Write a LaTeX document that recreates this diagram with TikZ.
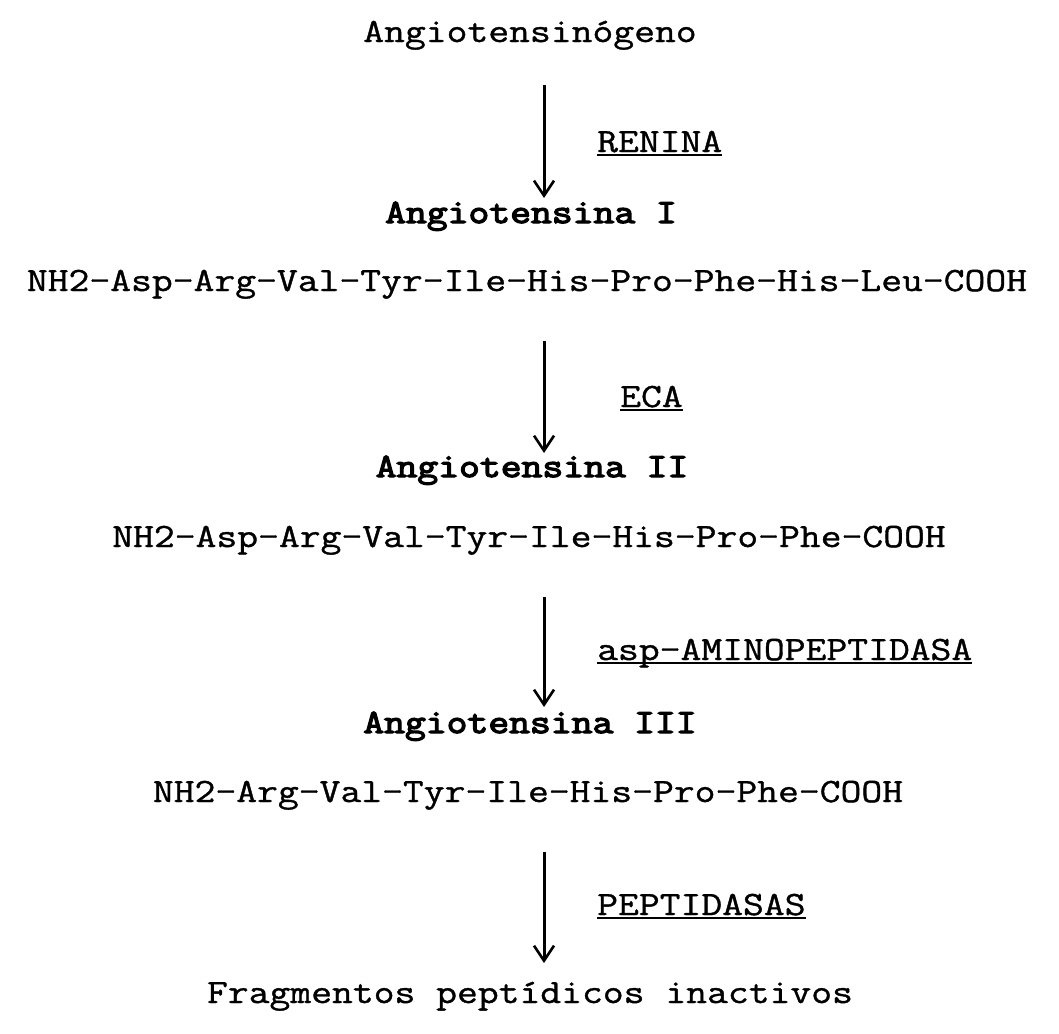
\documentclass[tikz,border=0pt]{standalone}
\usepackage{fontspec}
\newfontfamily\twr[FakeStretch=1.19,FakeBold=1.1]{Latin Modern Mono}
\newfontfamily\twb[FakeStretch=1.19,FakeBold=3.8]{Latin Modern Mono}
\usetikzlibrary{arrows.meta}
\begin{document}
\begin{tikzpicture}[x=1pt,y=-1pt,
  txt/.style={font=\twr\fontsize{34}{40}\selectfont, inner sep=0pt, anchor=base},
  btxt/.style={txt, font=\twb\fontsize{34}{40}\selectfont},
  lbl/.style={txt, anchor=base west},
  uline/.style={line width=1.8pt},
  arr/.style={line width=3pt, -{Straight Barb[length=15pt,width=20pt,line width=2.6pt]}}
]
\useasboundingbox (0,0) rectangle (1059,1033);

\node[txt]  (a0) at (530,42)  {Angiotensinógeno};
\node[btxt] (a1) at (531,223) {Angiotensina I};
\node[txt]  (s1) at (527,291) {NH2-Asp-Arg-Val-Tyr-Ile-His-Pro-Phe-His-Leu-COOH};
\node[btxt] (a2) at (532,477) {Angiotensina II};
\node[txt]  (s2) at (529,547) {NH2-Asp-Arg-Val-Tyr-Ile-His-Pro-Phe-COOH};
\node[btxt] (a3) at (530,733) {Angiotensina III};
\node[txt]  (s3) at (528,802) {NH2-Arg-Val-Tyr-Ile-His-Pro-Phe-COOH};
\node[txt]  (fr) at (530,1003) {Fragmentos peptídicos inactivos};

\coordinate (t1) at (544,85);  \coordinate (h1) at (544,198);
\coordinate (t2) at (544,341); \coordinate (h2) at (544,453);
\coordinate (t3) at (544,597); \coordinate (h3) at (544,707);
\coordinate (t4) at (544,852); \coordinate (h4) at (544,963);

\draw[arr] (t1) -- (h1);
\draw[arr] (t2) -- (h2);
\draw[arr] (t3) -- (h3);
\draw[arr] (t4) -- (h4);

\node[lbl] (l1) at (597,152) {RENINA};
\node[lbl] (l2) at (620,407) {ECA};
\node[lbl] (l3) at (597,660) {asp-AMINOPEPTIDASA};
\node[lbl] (l4) at (597,915) {PEPTIDASAS};

\foreach \n in {l1,l2,l3,l4}
  \draw[uline] ([yshift=-3pt]\n.base west) -- ([yshift=-3pt]\n.base east);
\end{tikzpicture}
\end{document}
